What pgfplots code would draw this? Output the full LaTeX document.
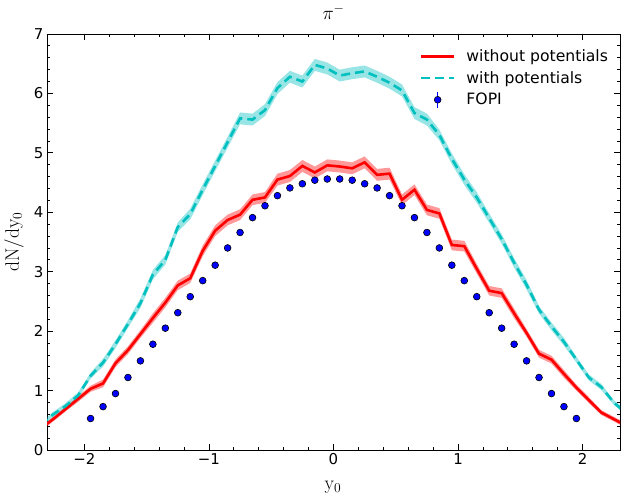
\RequirePackage{fix-cm}
\documentclass[border=0pt]{standalone}
\usepackage[no-math]{fontspec}
\setmainfont{DejaVu Sans}
\usepackage{pgfplots}
\pgfplotsset{compat=1.18}
\usepackage{pgfplotstable}
\usepgfplotslibrary{fillbetween}
\definecolor{mcyan}{RGB}{0,191,191}
\pgfplotsset{
  longline/.style={legend image code/.code={\draw[##1] (0bp,0bp)--(33bp,0bp);}},
  fopileg/.style={legend image code/.code={%
    \draw[blue, line width=1.2pt] (16.5bp,-8bp)--(16.5bp,8bp);
    \draw[fill=blue, draw=black, line width=0.6pt] (16.5bp,0bp) circle (3.4bp);}},
}

\pgfplotstableread{
x y e
-2.35 0.36 0.04
-2.25 0.52 0.04
-2.15 0.69 0.04
-2.05 0.86 0.05
-1.95 1.03 0.05
-1.85 1.12 0.065
-1.75 1.46 0.065
-1.65 1.68 0.065
-1.55 1.95 0.065
-1.45 2.22 0.08
-1.35 2.48 0.08
-1.25 2.77 0.08
-1.15 2.89 0.08
-1.05 3.35 0.09
-0.95 3.69 0.09
-0.85 3.87 0.09
-0.75 3.96 0.09
-0.65 4.21 0.09
-0.55 4.25 0.09
-0.45 4.55 0.10
-0.35 4.61 0.10
-0.25 4.78 0.10
-0.15 4.67 0.10
-0.05 4.79 0.10
0.05 4.77 0.10
0.15 4.74 0.10
0.25 4.84 0.10
0.35 4.63 0.10
0.45 4.65 0.10
0.55 4.21 0.09
0.65 4.38 0.09
0.75 4.04 0.09
0.85 3.98 0.09
0.95 3.45 0.09
1.05 3.43 0.09
1.15 3.05 0.08
1.25 2.68 0.08
1.35 2.64 0.08
1.45 2.30 0.08
1.55 1.97 0.065
1.65 1.62 0.065
1.75 1.52 0.065
1.85 1.28 0.065
1.95 1.05 0.05
2.05 0.84 0.05
2.15 0.63 0.04
2.25 0.52 0.04
2.35 0.41 0.04
}\redtab

\pgfplotstableread{
x y e
-2.35 0.42 0.04
-2.25 0.60 0.04
-2.15 0.74 0.05
-2.05 0.92 0.05
-1.95 1.25 0.05
-1.85 1.47 0.065
-1.75 1.78 0.065
-1.65 2.12 0.065
-1.55 2.47 0.08
-1.45 2.95 0.08
-1.35 3.20 0.08
-1.25 3.75 0.08
-1.15 3.97 0.09
-1.05 4.38 0.09
-0.95 4.78 0.09
-0.85 5.18 0.09
-0.75 5.58 0.10
-0.65 5.56 0.10
-0.55 5.72 0.10
-0.45 6.09 0.10
-0.35 6.28 0.10
-0.25 6.20 0.10
-0.15 6.48 0.10
-0.05 6.42 0.10
0.05 6.30 0.10
0.15 6.34 0.10
0.25 6.37 0.10
0.35 6.28 0.10
0.45 6.18 0.10
0.55 6.05 0.10
0.65 5.67 0.10
0.75 5.56 0.10
0.85 5.30 0.09
0.95 4.90 0.09
1.05 4.55 0.09
1.15 4.25 0.09
1.25 3.90 0.08
1.35 3.55 0.08
1.45 3.15 0.08
1.55 2.78 0.08
1.65 2.36 0.065
1.75 2.08 0.065
1.85 1.82 0.065
1.95 1.52 0.05
2.05 1.22 0.05
2.15 1.06 0.05
2.25 0.80 0.04
2.35 0.62 0.04
}\cyantab

\pgfplotstableread{
x y e
-1.95 0.53 0.03
-1.85 0.73 0.03
-1.75 0.95 0.03
-1.65 1.22 0.03
-1.55 1.50 0.03
-1.45 1.78 0.03
-1.35 2.05 0.03
-1.25 2.31 0.03
-1.15 2.58 0.03
-1.05 2.85 0.03
-0.95 3.11 0.03
-0.85 3.40 0.03
-0.75 3.66 0.03
-0.65 3.91 0.03
-0.55 4.11 0.03
-0.45 4.28 0.03
-0.35 4.41 0.03
-0.25 4.48 0.03
-0.15 4.54 0.03
-0.05 4.56 0.03
0.05 4.56 0.03
0.15 4.54 0.03
0.25 4.48 0.03
0.35 4.41 0.03
0.45 4.28 0.03
0.55 4.11 0.03
0.65 3.91 0.03
0.75 3.66 0.03
0.85 3.40 0.03
0.95 3.11 0.03
1.05 2.85 0.03
1.15 2.58 0.03
1.25 2.31 0.03
1.35 2.05 0.03
1.45 1.78 0.03
1.55 1.50 0.03
1.65 1.22 0.03
1.75 0.95 0.03
1.85 0.73 0.03
1.95 0.53 0.03
}\fopitab

\begin{document}
\begin{tikzpicture}
\begin{axis}[
  scale only axis,
  width=573bp, height=416bp,
  xmin=-2.3, xmax=2.3, ymin=0, ymax=7,
  xtick={-2,-1,0,1,2},
  xticklabels={−2,−1,0,1,2},
  ytick={0,1,2,3,4,5,6,7},
  yticklabels={0,1,2,3,4,5,6,7},
  minor x tick num=4,
  minor y tick num=4,
  tick align=inside,
  major tick length=6bp,
  minor tick length=3bp,
  every tick/.style={black, line width=0.8pt},
  axis line style={line width=0.9pt},
  tick label style={font=\fontsize{15}{17}\selectfont},
  /pgf/number format/assume math mode=true,
  xlabel={$\mathrm{y_0}$},
  ylabel={$\mathrm{dN/dy_0}$},
  label style={font=\fontsize{19.5}{22}\selectfont},
  xlabel style={at={(axis description cs:0.499,-0.089)}, anchor=center},
  ylabel style={at={(axis description cs:-0.0576,0.5)}, anchor=center},
  legend style={at={(axis description cs:0.988,0.972)}, anchor=north east, draw=none, fill=none,
    font=\fontsize{15.7}{18}\selectfont, row sep=4.3bp, column sep=9bp, cells={anchor=west}},
  legend cell align=left,
]
\coordinate (sw) at (axis description cs:0,0);
\coordinate (ne) at (axis description cs:1,1);
\coordinate (tt) at (axis description cs:0.5,1.036);

\addplot[name path=rU, draw=none, forget plot] table[x=x, y expr=\thisrow{y}+\thisrow{e}]{\redtab};
\addplot[name path=rL, draw=none, forget plot] table[x=x, y expr=\thisrow{y}-\thisrow{e}]{\redtab};
\addplot[red, fill opacity=0.4, draw=none, forget plot] fill between[of=rU and rL];

\addplot[name path=cU, draw=none, forget plot] table[x=x, y expr=\thisrow{y}+\thisrow{e}]{\cyantab};
\addplot[name path=cL, draw=none, forget plot] table[x=x, y expr=\thisrow{y}-\thisrow{e}]{\cyantab};
\addplot[mcyan, fill opacity=0.4, draw=none, forget plot] fill between[of=cU and cL];

\addplot[red, line width=2.6bp, no marks, longline] table[x=x, y=y]{\redtab};
\addlegendentry{without potentials}

\addplot[mcyan, line width=2.6bp, no marks, dash pattern=on 9bp off 5bp, longline] table[x=x, y=y]{\cyantab};
\addlegendentry{with potentials}

\addplot[only marks, mark=*, mark size=3.4bp, fopileg,
  mark options={fill=blue, draw=black, line width=0.6pt},
  error bars/.cd, y dir=both, y explicit, error mark=none,
  error bar style={blue, line width=1.2pt}]
  table[x=x, y=y, y error=e]{\fopitab};
\addlegendentry{FOPI}
\end{axis}
\node[anchor=base, inner sep=0pt, font=\fontsize{19}{22}\selectfont] at (tt) {$\pi^-$};
\pgfresetboundingbox
\path[use as bounding box] ([xshift=-47bp,yshift=-45bp]sw) rectangle ([xshift=1bp,yshift=34bp]ne);
\end{tikzpicture}
\end{document}
